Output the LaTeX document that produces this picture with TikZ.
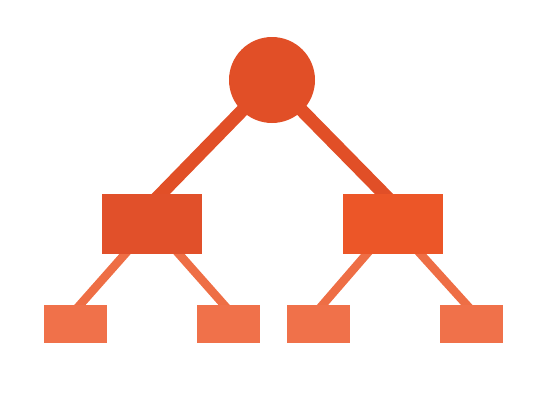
\documentclass[tikz,border=0pt]{standalone}
\usetikzlibrary{backgrounds}
\definecolor{rootred}{HTML}{E14F27}
\definecolor{midred}{HTML}{E1502A}
\definecolor{midredb}{HTML}{EC5628}
\definecolor{leafred}{HTML}{F0714A}
\definecolor{leafline}{HTML}{EE6E45}
\tikzset{
  rootnode/.style={circle,fill=rootred,inner sep=0pt,minimum size=86pt},
  midnode/.style={rectangle,inner sep=0pt,minimum width=100pt,minimum height=60pt},
  leafnode/.style={rectangle,fill=leafred,inner sep=0pt,minimum width=63pt,minimum height=38pt},
  topline/.style={draw=rootred,line width=13pt},
  lowline/.style={draw=leafline,line width=8.5pt}
}
\begin{document}
\begin{tikzpicture}[x=1pt,y=-1pt]
                    \useasboundingbox (0,0) rectangle (540,415);
                    \node[rootnode] (root) at (272,80) {};
                    \node[midnode,fill=midred] (midL) at (152,223.5) {};
                    \node[midnode,fill=midredb] (midR) at (393,223.5) {};
                    \node[leafnode] (leafA) at (75.5,323.5) {};
                    \node[leafnode] (leafB) at (228.5,323.5) {};
                    \node[leafnode] (leafC) at (318.5,323.5) {};
                    \node[leafnode] (leafD) at (471.5,323.5) {};
                    \begin{scope}[on background layer]
                    \draw [topline] (root.center)--([xshift=-20pt]midL.center);
                    \draw [topline] (root.center)--([xshift=20pt]midR.center);
                    \draw [lowline] (midL.center)--([xshift=-12pt]leafA.center);
                    \draw [lowline] (midL.center)--([xshift=12pt]leafB.center);
                    \draw [lowline] (midR.center)--([xshift=-12pt]leafC.center);
                    \draw [lowline] (midR.center)--([xshift=12pt]leafD.center);
                    \end{scope}
\end{tikzpicture}
\end{document}
